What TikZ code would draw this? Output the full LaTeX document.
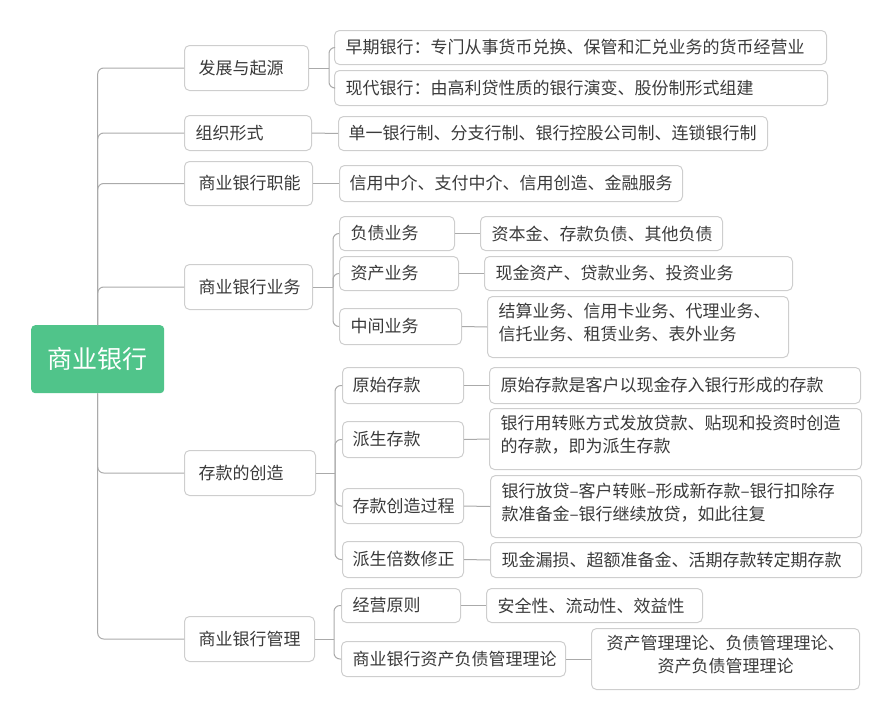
\documentclass[tikz,border=0pt]{standalone}
\usepackage{fontspec}
\setmainfont{Noto Sans CJK SC}
\definecolor{boxc}{RGB}{206,206,206}
\definecolor{linec}{RGB}{170,170,170}
\definecolor{txt}{RGB}{58,58,58}
\definecolor{rootc}{RGB}{80,196,138}
\tikzset{
  box/.style={draw=boxc, line width=1pt, rounded corners=5pt, text=txt,
    inner ysep=0pt, font=\fontsize{17}{23}\selectfont, align=left},
  rootbox/.style={fill=rootc, rounded corners=4pt, text=white,
    font=\fontsize{25}{30}\selectfont, inner sep=0pt},
  conn/.style={draw=linec, line width=1pt, rounded corners=6pt},
}
\newcommand\boxnode[7]{\node[box, anchor=north west,
  minimum width={(#4-#2)*1pt}, minimum height={(#5-#3)*1pt},
  text width={(#4-#2-2*#6)*1pt}, inner xsep=#6pt] (#1) at (#2,#3) {#7};}
\begin{document}
\begin{tikzpicture}[x=1pt,y=-1pt]
\useasboundingbox (0,0) rectangle (891,720);
% root
\node[rootbox, anchor=north west, minimum width=133pt, minimum height=68pt] (root) at (31,325) {商业银行};
% level 1
\boxnode{b1}{184}{45}{308}{90}{14}{发展与起源}
\boxnode{b2}{184}{115}{311}{150}{11}{组织形式}
\boxnode{b3}{184}{161}{312}{205}{14}{商业银行职能}
\boxnode{b4}{184}{264}{312}{309}{14}{商业银行业务}
\boxnode{b5}{184}{450}{315}{495}{14}{存款的创造}
\boxnode{b6}{184}{616}{314}{661}{14}{商业银行管理}
% level 2
\boxnode{c11}{334}{30}{826}{64}{11}{早期银行：专门从事货币兑换、保管和汇兑业务的货币经营业}
\boxnode{c12}{334}{70}{827}{105}{11}{现代银行：由高利贷性质的银行演变、股份制形式组建}
\boxnode{c21}{338}{116}{767}{150}{10}{单一银行制、分支行制、银行控股公司制、连锁银行制}
\boxnode{c31}{339}{165}{682}{201}{10}{信用中介、支付中介、信用创造、金融服务}
\boxnode{c41}{339}{216}{454}{250}{11}{负债业务}
\boxnode{c42}{339}{256}{458}{290}{11}{资产业务}
\boxnode{c43}{339}{308}{461}{344}{11}{中间业务}
\boxnode{c51}{342}{367}{463}{403}{10}{原始存款}
\boxnode{c52}{342}{421}{463}{457}{10}{派生存款}
\boxnode{c53}{342}{488}{463}{523}{10}{存款创造过程}
\boxnode{c54}{342}{541}{463}{577}{10}{派生倍数修正}
\boxnode{c61}{341}{588}{460}{622}{11}{经营原则}
\boxnode{c62}{341}{641}{565}{676}{11}{商业银行资产负债管理理论}
% level 3
\boxnode{d41}{480}{216}{722}{250}{11}{资本金、存款负债、其他负债}
\boxnode{d42}{484}{256}{792}{290}{11}{现金资产、贷款业务、投资业务}
\boxnode{d43}{487}{296}{788}{357}{11}{结算业务、信用卡业务、代理业务、\\信托业务、租赁业务、表外业务\par\vspace{8pt}}
\boxnode{d51}{489}{367}{860}{403}{11}{原始存款是客户以现金存入银行形成的存款}
\boxnode{d52}{489}{408}{861}{469}{11}{银行用转账方式发放贷款、贴现和投资时创造\\的存款，即为派生存款\par\vspace{8pt}}
\boxnode{d53}{490}{475}{861}{537}{11}{银行放贷–客户转账–形成新存款–银行扣除存\\款准备金–银行继续放贷，如此往复\par\vspace{8pt}}
\boxnode{d54}{490}{542}{861}{577}{11}{现金漏损、超额准备金、活期存款转定期存款}
\boxnode{d61}{486}{588}{702}{622}{11}{安全性、流动性、效益性}
\node[box, align=center, anchor=north west, minimum width=268pt, minimum height=61pt,
  text width=246pt, inner xsep=11pt] (d62) at (591,628)
  {资产管理理论、负债管理理论、\\资产负债管理理论\par\vspace{8pt}};
% trunk
\draw[conn] (root.north) |- (b1.west);
\draw[conn] (root.north) |- (b2.west);
\draw[conn] (root.north) |- (b3.west);
\draw[conn] (root.north) |- (b4.west);
\draw[conn] (root.south) |- (b5.west);
\draw[conn] (root.south) |- (b6.west);
% splits
\coordinate (s1) at ([xshift=20pt]b1.east);
\coordinate (s4) at ([xshift=20pt]b4.east);
\coordinate (s5) at ([xshift=19pt]b5.east);
\coordinate (s6) at ([xshift=19pt]b6.east);
\draw[conn] (b1.east) -- (s1);
\draw[conn] (s1) |- (c11.west);
\draw[conn] (s1) |- (c12.west);
\draw[conn] (b2.east) -- (c21.west);
\draw[conn] (b3.east) -- (c31.west);
\draw[conn] (b4.east) -- (s4);
\draw[conn] (s4) |- (c41.west);
\draw[conn] (s4) |- (c42.west);
\draw[conn] (s4) |- (c43.west);
\draw[conn] (c41.east) -- (d41.west);
\draw[conn] (c42.east) -- (d42.west);
\draw[conn] (c43.east) -- (d43.west);
\draw[conn] (b5.east) -- (s5);
\draw[conn] (s5) |- (c51.west);
\draw[conn] (s5) |- (c52.west);
\draw[conn] (s5) |- (c53.west);
\draw[conn] (s5) |- (c54.west);
\draw[conn] (c51.east) -- (d51.west);
\draw[conn] (c52.east) -- (d52.west);
\draw[conn] (c53.east) -- (d53.west);
\draw[conn] (c54.east) -- (d54.west);
\draw[conn] (b6.east) -- (s6);
\draw[conn] (s6) |- (c61.west);
\draw[conn] (s6) |- (c62.west);
\draw[conn] (c61.east) -- (d61.west);
\draw[conn] (c62.east) -- (d62.west);
\end{tikzpicture}
\end{document}
